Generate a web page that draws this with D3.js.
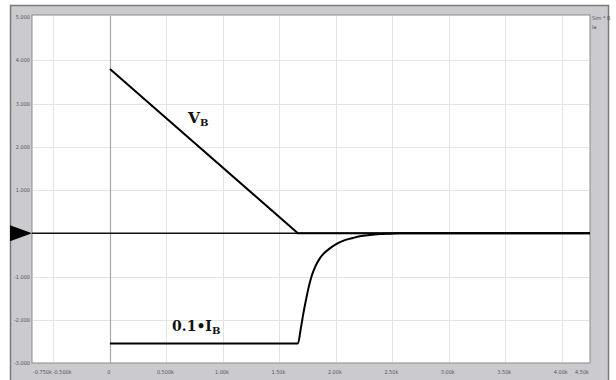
<!DOCTYPE html>
<html>
<head>
<meta charset="utf-8">
<script src="https://cdn.jsdelivr.net/npm/d3@7"></script>
<style>
  html, body { margin: 0; padding: 0; background: #ffffff; }
  svg { display: block; }
</style>
</head>
<body>
<svg id="chart" width="616" height="380"></svg>
<script>
// Time axis in k-units, value axis in volts / scaled amps
const xDomain = [-0.69, 4.25];
const yDomain = [-3, 5];

const xTicks = [-0.5, 0, 0.5, 1.0, 1.5, 2.0, 2.5, 3.0, 3.5, 4.0];
const xTickLabels = ["-0.500k", "0", "0.500k", "1.00k", "1.50k", "2.00k", "2.50k", "3.00k", "3.50k", "4.00k"];
const xEndLabels = ["-0.750k", "4.50k"];

const yTicks = [5, 4, 3, 2, 1, 0, -1, -2, -3];
const yTickLabels = ["5.000", "4.000", "3.000", "2.000", "1.000", "", "-1.000", "-2.000", "-3.000"];

// V_B trace: linear ramp down, then held at zero
const vbX = [0, 1.664, 4.25];
const vbY = [3.8, 0, 0];

// 0.1*I_B trace: flat negative, then recovery toward zero
const ibX = [0, 1.664, 1.690, 1.712, 1.735, 1.760, 1.788, 1.820, 1.858, 1.900, 1.947, 2.010, 2.080, 2.150, 2.212, 2.300, 2.389, 2.480, 2.566, 4.25];
const ibY = [-2.55, -2.55, -2.20, -1.86, -1.55, -1.24, -0.97, -0.76, -0.58, -0.45, -0.35, -0.24, -0.16, -0.11, -0.07, -0.04, -0.02, -0.01, 0, 0];

const seriesLabels = [
  { main: "V", sub: "B", x: 0.69, y: 2.55, size: 15.5, subSize: 10 },
  { main: "0.1\u2022I", sub: "B", x: 0.55, y: -2.25, size: 14, subSize: 10 }
];

const svg = d3.select("#chart");

const plot = { left: 32, top: 15, right: 590, bottom: 363 };

const x = d3.scaleLinear().domain(xDomain).range([plot.left, plot.right]);
const y = d3.scaleLinear().domain(yDomain).range([363, 17]);

const tickFont = "DejaVu Sans Condensed, DejaVu Sans, sans-serif";

// outer window frame
svg.append("rect")
  .attr("x", 10.5).attr("y", 5.5)
  .attr("width", 598).attr("height", 380)
  .attr("fill", "#cbcacf")
  .attr("stroke", "#7a7a7e").attr("stroke-width", 1.5);

// plot area
svg.append("rect")
  .attr("x", plot.left).attr("y", plot.top)
  .attr("width", plot.right - plot.left).attr("height", plot.bottom - plot.top)
  .attr("fill", "#ffffff")
  .attr("stroke", "#8a8a8e").attr("stroke-width", 1);

// grid
const grid = svg.append("g").attr("stroke", "#e4e4e6").attr("stroke-width", 1);
grid.selectAll("line.v").data(xTicks.filter(d => d !== 0)).join("line")
  .attr("x1", d => Math.round(x(d)) + 0.5).attr("x2", d => Math.round(x(d)) + 0.5)
  .attr("y1", plot.top + 1).attr("y2", plot.bottom - 1);
grid.selectAll("line.h").data(yTicks.filter(d => d !== 0 && d !== 5 && d !== -3)).join("line")
  .attr("x1", plot.left + 1).attr("x2", plot.right - 1)
  .attr("y1", d => Math.round(y(d)) + 0.5).attr("y2", d => Math.round(y(d)) + 0.5);

// x = 0 axis
svg.append("line")
  .attr("x1", Math.round(x(0)) + 0.5).attr("x2", Math.round(x(0)) + 0.5)
  .attr("y1", plot.top + 1).attr("y2", plot.bottom)
  .attr("stroke", "#a8a8aa").attr("stroke-width", 1.2);

// y = 0 axis
svg.append("line")
  .attr("x1", plot.left).attr("x2", plot.right)
  .attr("y1", y(0)).attr("y2", y(0))
  .attr("stroke", "#111").attr("stroke-width", 1.4);

// y tick labels
svg.append("g").selectAll("text").data(yTicks).join("text")
  .attr("x", 30).attr("y", d => y(d) + 2)
  .attr("text-anchor", "end")
  .attr("font-family", tickFont)
  .attr("font-size", 5.5)
  .attr("fill", "#555")
  .text((d, i) => yTickLabels[i]);

// x end label (left) and tick labels
const leftEnd = svg.append("text")
  .attr("x", plot.left + 1).attr("y", 374)
  .attr("text-anchor", "start")
  .attr("font-family", tickFont)
  .attr("font-size", 5.5).attr("fill", "#555")
  .text(xEndLabels[0]);
const leftEndRight = plot.left + 1 + leftEnd.node().getComputedTextLength();

svg.append("g").selectAll("text").data(xTicks).join("text")
  .attr("x", d => x(d) - 1).attr("y", 374)
  .attr("text-anchor", "middle")
  .attr("font-family", tickFont)
  .attr("font-size", 5.5)
  .attr("fill", "#555")
  .text((d, i) => xTickLabels[i])
  .each(function () {
    // keep the first label clear of the left end label
    const bb = this.getBBox();
    if (bb.x < leftEndRight + 1) {
      d3.select(this).attr("text-anchor", "start").attr("x", leftEndRight + 1);
    }
  });

svg.append("text")
  .attr("x", plot.right - 1).attr("y", 374)
  .attr("text-anchor", "end")
  .attr("font-family", tickFont)
  .attr("font-size", 5.5).attr("fill", "#555")
  .text(xEndLabels[1]);

// corner legend tag
svg.append("text").attr("x", 592).attr("y", 20)
  .attr("font-family", tickFont).attr("font-size", 5.5).attr("fill", "#555")
  .text("Sim * B");
svg.append("text").attr("x", 592).attr("y", 29)
  .attr("font-family", tickFont).attr("font-size", 5.5).attr("fill", "#555")
  .text("Ia");

// zero-level marker
svg.append("path")
  .attr("d", d3.line()([[10, y(0) - 8], [plot.left, y(0)], [10, y(0) + 8]]) + "Z")
  .attr("fill", "#000");

// traces
const curveLine = d3.line().x(d => x(d[0])).y(d => y(d[1])).curve(d3.curveMonotoneX);

svg.append("path")
  .datum(vbX.map((v, i) => [v, vbY[i]]))
  .attr("d", d3.line().x(d => x(d[0])).y(d => y(d[1])))
  .attr("fill", "none").attr("stroke", "#000").attr("stroke-width", 2);

svg.append("path")
  .datum(ibX.map((v, i) => [v, ibY[i]]))
  .attr("d", curveLine)
  .attr("fill", "none").attr("stroke", "#000").attr("stroke-width", 2);

// trace labels
const lab = svg.append("g");
seriesLabels.forEach(s => {
  const t = lab.append("text")
    .attr("x", x(s.x)).attr("y", y(s.y))
    .attr("font-family", "DejaVu Serif, serif")
    .attr("font-weight", "bold")
    .attr("font-size", s.size)
    .attr("fill", "#111");
  t.append("tspan").text(s.main);
  t.append("tspan").attr("dy", 3).attr("font-size", s.subSize).text(s.sub);
});
</script>
</body>
</html>
